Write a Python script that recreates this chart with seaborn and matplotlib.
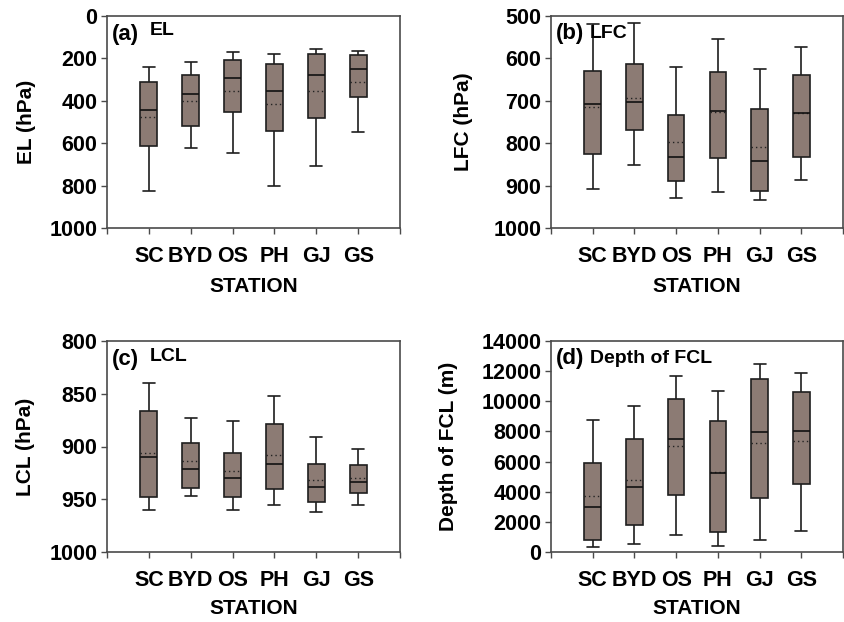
import numpy as np
import pandas as pd
import matplotlib
matplotlib.use("Agg")
import matplotlib.pyplot as plt
import seaborn as sns

stations = ["SC", "BYD", "OS", "PH", "GJ", "GS"]

# (a) EL (hPa)
el_min = [239, 217, 170, 180, 156, 166]
el_q1 = [313, 279, 208, 228, 181, 186]
el_med = [442, 368, 293, 352, 279, 250]
el_q3 = [613, 520, 451, 544, 480, 382]
el_max = [827, 623, 645, 800, 706, 546]
el_mean = [478, 400, 352, 414, 352, 309]

# (b) LFC (hPa)
lfc_min = [518, 517, 620, 555, 625, 573]
lfc_q1 = [629, 613, 733, 633, 719, 639]
lfc_med = [707, 703, 832, 725, 841, 729]
lfc_q3 = [826, 769, 889, 835, 913, 833]
lfc_max = [909, 851, 929, 915, 935, 887]
lfc_mean = [714, 694, 798, 727, 808, 728]

# (c) LCL (hPa)
lcl_min = [840, 873, 876, 852, 891, 902]
lcl_q1 = [866, 897, 906, 879, 917, 918]
lcl_med = [910, 921, 930, 917, 938, 934]
lcl_q3 = [948, 939, 948, 940, 953, 944]
lcl_max = [960, 947, 960, 955, 962, 955]
lcl_mean = [906, 914, 923, 908, 932, 930]

# (d) Depth of FCL (m)
fcl_min = [310, 554, 1152, 399, 797, 1395]
fcl_q1 = [775, 1816, 3810, 1329, 3610, 4541]
fcl_med = [2968, 4341, 7509, 5227, 7930, 7996]
fcl_q3 = [5936, 7465, 10145, 8705, 11452, 10632]
fcl_max = [8727, 9657, 11673, 10676, 12493, 11872]
fcl_mean = [3721, 4784, 7021, 5338, 7265, 7398]

sns.set_theme(style="ticks")
plt.rcParams["font.family"] = ["Liberation Sans", "DejaVu Sans"]
plt.rcParams["font.weight"] = "bold"
plt.rcParams["axes.labelweight"] = "bold"
plt.rcParams["text.color"] = "black"
plt.rcParams["axes.labelcolor"] = "black"
plt.rcParams["xtick.color"] = "black"
plt.rcParams["ytick.color"] = "black"

BOX_COLOR = "#8c7b74"
LINE_COLOR = "#1e1e1e"
SPINE_COLOR = "#4a4a4a"

fig = plt.figure(figsize=(8.45, 6.22), dpi=100)
W, H = 845.0, 622.0


def make_ax(l, t, r, b):
    return fig.add_axes([l / W, 1 - b / H, (r - l) / W, (b - t) / H])


panels = [
    dict(rect=(107, 16, 400, 228), stats=(el_min, el_q1, el_med, el_q3, el_max, el_mean),
         ylim=(1000, 0), yticks=np.arange(0, 1001, 200), ylabel="EL (hPa)",
         tag="(a)", title="EL", titx=0.145, taty=0.885, tity=0.91,
         ylab_x=-0.242, xlab_y=-0.23),
    dict(rect=(551, 16, 843, 228), stats=(lfc_min, lfc_q1, lfc_med, lfc_q3, lfc_max, lfc_mean),
         ylim=(1000, 500), yticks=np.arange(500, 1001, 100), ylabel="LFC (hPa)",
         tag="(b)", title="LFC", titx=0.132, taty=0.89, tity=0.895,
         ylab_x=-0.267, xlab_y=-0.23),
    dict(rect=(107, 341, 400, 552), stats=(lcl_min, lcl_q1, lcl_med, lcl_q3, lcl_max, lcl_mean),
         ylim=(1000, 800), yticks=np.arange(800, 1001, 50), ylabel="LCL (hPa)",
         tag="(c)", title="LCL", titx=0.145, taty=0.885, tity=0.905,
         ylab_x=-0.246, xlab_y=-0.222),
    dict(rect=(551, 341, 843, 552), stats=(fcl_min, fcl_q1, fcl_med, fcl_q3, fcl_max, fcl_mean),
         ylim=(0, 14000), yticks=np.arange(0, 14001, 2000), ylabel="Depth of FCL (m)",
         tag="(d)", title="Depth of FCL", titx=0.132, taty=0.89, tity=0.895,
         ylab_x=-0.318, xlab_y=-0.222),
]

for p in panels:
    ax = make_ax(*p["rect"])
    mn, q1, md, q3, mx, mean = p["stats"]
    rows = []
    for i, s in enumerate(stations):
        for v in (mn[i], q1[i], md[i], q3[i], mx[i]):
            rows.append({"station": s, "value": v})
    df = pd.DataFrame(rows)
    sns.boxplot(data=df, x="station", y="value", order=stations, ax=ax,
                whis=(0, 100), width=0.4, color=BOX_COLOR, saturation=1,
                linecolor=LINE_COLOR, linewidth=1.2, capwidths=0.29,
                medianprops=dict(color="#111111", linewidth=1.2))
    xs = np.arange(len(stations))
    ax.hlines(mean, xs - 0.2, xs + 0.2, colors="#222222", linewidth=1.0,
              linestyles=(0, (1, 2.2)))
    ax.set_xlim(-1, 6)
    ax.set_ylim(*p["ylim"])
    ax.set_yticks(p["yticks"])
    ax.set_yticklabels([str(int(v)) for v in p["yticks"]], fontsize=15.5, fontweight="bold")
    ax.set_xticks(np.arange(-1, 7))
    ax.set_xticklabels([""] + stations + [""], fontsize=15.5, fontweight="bold")
    ax.tick_params(axis="x", length=4, width=1.0, pad=9, color=SPINE_COLOR, labelcolor="black")
    ax.tick_params(axis="y", length=4, width=1.0, pad=3, color=SPINE_COLOR, labelcolor="black")
    for sp in ax.spines.values():
        sp.set_visible(True)
        sp.set_color(SPINE_COLOR)
        sp.set_linewidth(1.2)
    ax.set_xlabel("STATION", fontsize=15, fontweight="bold")
    ax.set_ylabel(p["ylabel"], fontsize=15, fontweight="bold")
    ax.xaxis.set_label_coords(0.5, p["xlab_y"])
    ax.yaxis.set_label_coords(p["ylab_x"], 0.5)
    ax.text(0.015, p["taty"], p["tag"], transform=ax.transAxes, fontsize=16,
            fontweight="bold", ha="left", va="baseline")
    ax.text(p["titx"], p["tity"], p["title"], transform=ax.transAxes, fontsize=14,
            fontweight="bold", ha="left", va="baseline")

fig.savefig("out.png", dpi=100)
